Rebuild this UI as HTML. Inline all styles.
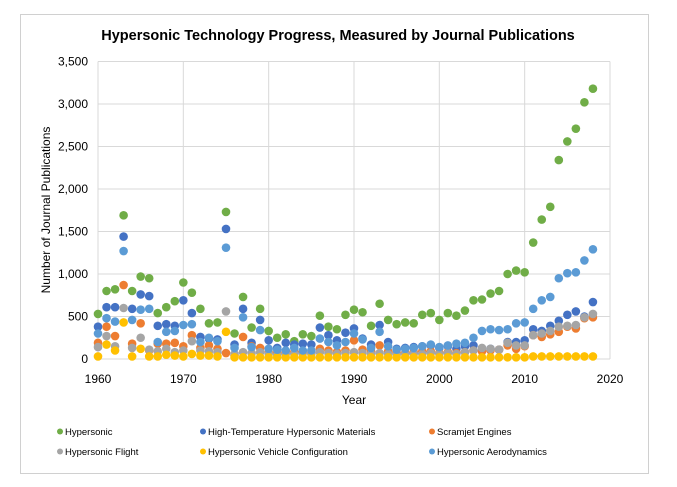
<!DOCTYPE html>
<html><head><meta charset="utf-8"><style>
body{margin:0;background:#fff;font-family:"Liberation Sans",sans-serif}
svg text{font-family:"Liberation Sans",sans-serif}
</style></head><body>
<svg width="677" height="482">
<rect x="20.5" y="14.5" width="628" height="459" fill="#fff" stroke="#d0d0d0"/>
<text x="338" y="40" text-anchor="middle" font-size="14.5" font-weight="bold" fill="#000">Hypersonic Technology Progress, Measured by Journal Publications</text>
<g id="grid"></g>
<g id="axes"></g>
<g id="pts"></g>
<text transform="translate(50,210) rotate(-90)" text-anchor="middle" font-size="12" fill="#000">Number of Journal Publications</text>
<text x="354" y="404" text-anchor="middle" font-size="12" fill="#000">Year</text>
<g id="legend"></g>
</svg>
<script>
const seriesNames=["Hypersonic","High-Temperature Hypersonic Materials","Scramjet Engines","Hypersonic Flight","Hypersonic Vehicle Configuration","Hypersonic Aerodynamics"];
const colors=["#70ad47","#4472c4","#ed7d31","#a5a5a5","#ffc000","#5b9bd5"];
const yTicks=[0,500,1000,1500,2000,2500,3000,3500];
const xTicks=[1960,1970,1980,1990,2000,2010,2020];
const startYear=1960;
const hypersonic=[530,800,820,1690,800,970,950,540,610,680,900,780,590,420,430,1730,300,730,370,590,330,250,290,210,290,270,510,380,350,520,580,550,390,650,460,410,430,420,520,540,460,540,510,570,690,700,770,800,1000,1040,1020,1370,1640,1790,2340,2560,2710,3020,3180];
const highTemp=[380,610,610,1440,590,760,740,390,410,390,690,540,260,240,230,1530,170,590,190,460,220,130,190,170,180,170,370,280,220,310,360,240,170,400,200,120,130,140,150,160,130,150,120,150,160,100,120,110,200,200,220,350,330,390,450,520,560,500,670];
const scramjet=[190,380,270,870,180,420,100,180,180,190,150,280,130,160,120,70,40,260,150,130,80,70,90,80,90,70,120,100,80,100,220,110,90,160,90,70,70,80,90,90,70,80,70,80,100,90,100,110,160,120,150,280,260,290,320,380,360,480,490];
const flight=[140,270,150,600,130,250,110,90,120,80,100,210,100,90,80,560,60,80,70,80,60,50,60,60,70,60,80,70,60,70,80,70,60,70,60,50,60,60,60,70,60,70,60,80,100,130,120,110,190,160,160,280,300,330,380,390,400,490,530];
const config=[30,170,100,430,30,120,30,30,50,40,30,60,40,40,30,320,20,20,20,20,20,20,20,20,20,20,20,20,20,20,20,20,20,20,20,20,20,20,20,20,20,20,20,20,20,20,20,20,20,20,20,30,30,30,30,30,30,30,30];
const aero=[300,480,440,1270,460,580,590,200,320,330,400,410,200,250,210,1310,130,490,140,340,120,110,100,130,100,100,240,200,160,200,300,230,130,320,150,110,120,130,150,170,140,160,180,190,250,330,350,340,350,420,430,590,690,730,950,1010,1020,1160,1290];
const allSeries=[hypersonic,highTemp,scramjet,flight,config,aero];
const X0=98,X1=610,Y0=359,Y1=61.5;
const xScale=v=>X0+(v-1960)/60*(X1-X0);
const yScale=v=>Y0-v/3500*(Y0-Y1);
const NS="http://www.w3.org/2000/svg";
function mk(tag,attrs,parent){const e=document.createElementNS(NS,tag);for(const k in attrs)e.setAttribute(k,attrs[k]);parent.appendChild(e);return e;}
const grid=document.getElementById('grid'),axes=document.getElementById('axes'),pts=document.getElementById('pts'),leg=document.getElementById('legend');
yTicks.forEach(t=>{
  const l=mk('line',{x1:X0,x2:X1,y1:yScale(t),y2:yScale(t),stroke:'#d9d9d9','stroke-width':1},grid);
  
  
  const tx=mk('text',{x:X0-10,y:yScale(t)+4,'text-anchor':'end','font-size':12,fill:'#000'},axes);
  tx.textContent=t.toLocaleString('en-US');
  
  
});
xTicks.forEach(t=>{
  const l=mk('line',{x1:xScale(t),x2:xScale(t),y1:Y1,y2:Y0,stroke:'#d9d9d9','stroke-width':1},grid);
  
  
  const tx=mk('text',{x:xScale(t),y:Y0+24,'text-anchor':'middle','font-size':12,fill:'#000'},axes);
  tx.textContent=t;
  
  
});
allSeries.forEach((s,si)=>{
  s.forEach((v,i)=>{
    const c=mk('circle',{cx:xScale(startYear+i),cy:yScale(v),r:4.3,fill:colors[si]},pts);
    
    
  });
});
const legX=[60,203,432],legY=[435,455];
seriesNames.forEach((n,i)=>{
  const x=legX[i%3],y=legY[Math.floor(i/3)];
  const c=mk('circle',{cx:x,cy:y-3.5,r:3,fill:colors[i]},leg);
  
  
  const t=mk('text',{x:x+5,y:y,'font-size':9.5,fill:'#000'},leg);
  t.textContent=n;
  
  
});
</script>
</body></html>
